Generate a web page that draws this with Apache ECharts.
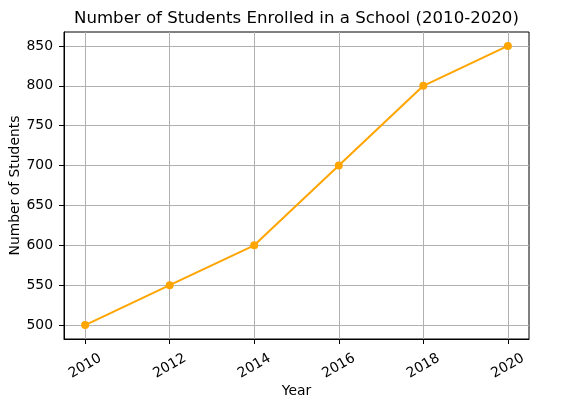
<!DOCTYPE html>
<html>
<head>
<meta charset="utf-8">
<script src="https://cdn.jsdelivr.net/npm/echarts@6/dist/echarts.min.js"></script>
<style>html,body{margin:0;padding:0;background:#fff}#c{width:577px;height:399px}</style>
</head>
<body>
<div id="c"></div>
<script>
const years = [2010, 2012, 2014, 2016, 2018, 2020];
const students = [500, 550, 600, 700, 800, 850];
const xTicks = [2010, 2012, 2014, 2016, 2018, 2020];
const yTicks = [500, 550, 600, 650, 700, 750, 800, 850];

const font = 'DejaVu Sans';
const chart = echarts.init(document.getElementById('c'));
chart.setOption({
  animation: false,
  backgroundColor: '#fff',
  title: {
    text: 'Number of Students Enrolled in a School (2010-2020)',
    left: 69, top: 5,
    textStyle: {fontFamily: font, fontSize: 16.6, fontWeight: 'normal', color: '#000'}
  },
  grid: {left: 64, right: 48, top: 32, bottom: 60, outerBoundsMode: 'none', containLabel: false,
    show: true, borderColor: '#000', borderWidth: 1, backgroundColor: 'transparent'},
  xAxis: {
    type: 'value', min: 2009.5, max: 2020.5,
    name: 'Year', nameLocation: 'middle', nameGap: 45, nameMoveOverlap: false,
    nameTextStyle: {fontFamily: font, fontSize: 13.9, color: '#000'},
    axisLine: {show: true, lineStyle: {color: '#000', width: 1}},
    axisTick: {show: true, length: 5, lineStyle: {color: '#000'}, customValues: xTicks},
    axisLabel: {customValues: xTicks, rotate: 30, align: 'center', verticalAlign: 'middle', margin: 27,
      fontFamily: font, fontSize: 13.9, color: '#000', formatter: v => String(v)},
    splitLine: {show: true, lineStyle: {color: '#b0b0b0', width: 1}}
  },
  yAxis: {
    type: 'value', min: 482.5, max: 867.5,
    name: 'Number of Students', nameLocation: 'middle', nameGap: 42, nameRotate: 90, nameMoveOverlap: false,
    nameTextStyle: {fontFamily: font, fontSize: 13.9, color: '#000'},
    axisLine: {show: true, lineStyle: {color: '#000', width: 1}},
    axisTick: {show: true, length: 5, lineStyle: {color: '#000'}, customValues: yTicks},
    axisLabel: {customValues: yTicks, margin: 11, fontFamily: font, fontSize: 13.9, color: '#000'},
    splitLine: {show: true, lineStyle: {color: '#b0b0b0', width: 1}}
  },
  series: [{
    type: 'line',
    data: years.map((y, i) => [y, students[i]]),
    symbol: 'circle', symbolSize: 8,
    itemStyle: {color: '#FFA500'},
    lineStyle: {color: '#FFA500', width: 2}
  }]
});
</script>
</body>
</html>
